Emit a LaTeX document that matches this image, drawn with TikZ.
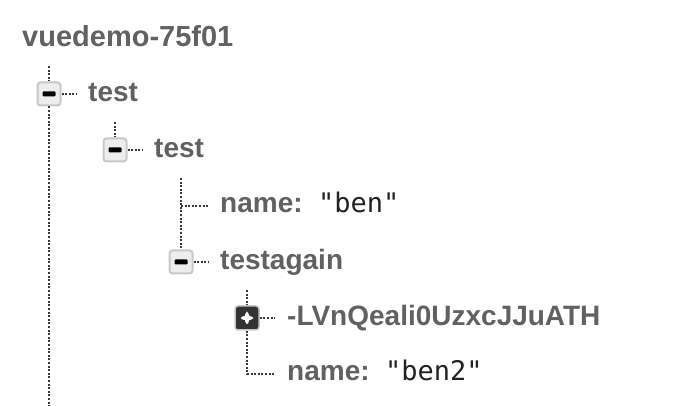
\documentclass[tikz,border=0pt]{standalone}
\usepackage{fontspec}
\setmainfont{Liberation Sans}
\setmonofont{DejaVu Sans Mono}

\definecolor{keygray}{HTML}{616161}
\definecolor{valdark}{HTML}{222222}
\definecolor{dotgray}{HTML}{3A3A3A}
\definecolor{boxedge}{HTML}{C8C8C8}
\definecolor{boxfill}{HTML}{EDEDED}
\definecolor{boxdark}{HTML}{333333}

\begin{document}
\begin{tikzpicture}[x=1pt, y=-1pt]

    % Styles for keys, values, tree lines and toggle boxes
    \tikzset{
      key/.style={anchor=base west, inner sep=0pt, text=keygray,
        font=\fontsize{28}{30}\selectfont\bfseries},
      val/.style={anchor=base west, inner sep=0pt, text=valdark,
        font=\fontsize{27}{30}\selectfont\ttfamily},
      tree/.style={draw=dotgray, line width=2.3pt, dash pattern=on 2pt off 1.6pt},
      minusbox/.style={draw=boxedge, fill=boxfill, line width=2pt, rounded corners=3pt,
        minimum size=23pt, inner sep=0pt,
        path picture={\fill[black, rounded corners=1pt]
          ([shift={(-6.5pt,-2.5pt)}]path picture bounding box.center) rectangle
          ([shift={(6.5pt,2.5pt)}]path picture bounding box.center);}},
      plusbox/.style={draw=boxedge, fill=boxdark, line width=1.5pt, rounded corners=3pt,
        minimum size=24pt, inner sep=0pt,
        path picture={\fill[white]
          ([shift={(-6pt,-2pt)}]path picture bounding box.center) rectangle
          ([shift={(6pt,2pt)}]path picture bounding box.center)
          ([shift={(-2pt,-6pt)}]path picture bounding box.center) rectangle
          ([shift={(2pt,6pt)}]path picture bounding box.center);}}
    }

    \useasboundingbox (0,0) rectangle (686,406);

    % Define horizontal position of each tree level (box centres)
    \def\xa{49}
    \def\xb{115}
    \def\xc{181}
    \def\xd{247}
    % Define vertical centre of each row
    \def\ya{94}
    \def\yb{150}
    \def\yc{206}
    \def\yd{262}
    \def\ye{318}
    \def\yf{374}

    % --- Title ---
    \node[key, font=\fontsize{29}{31}\selectfont\bfseries] (root) at (22, 47) {vuedemo-75f01};

    % --- Rows ---
    \node[minusbox] (tgla) at (\xa, \ya) {};
    \node[key] (keya) at (\xa+39, \ya+8) {test};

    \node[minusbox] (tglb) at (\xb, \yb) {};
    \node[key] (keyb) at (\xb+39, \yb+8) {test};

    \node[key] (keyc) at (\xc+39, \yc+7) {name:};
    \node[val] (valc) at (\xc+137, \yc+7) {"ben"};

    \node[minusbox] (tgld) at (\xc, \yd) {};
    \node[key] (keyd) at (\xc+39, \yd+8) {testagain};

    \node[plusbox] (tgle) at (\xd, \ye) {};
    \node[key] (keye) at (\xd+40, \ye+8) {-LVnQeali0UzxcJJuATH};

    \node[key] (keyf) at (\xd+40, \yf+7) {name:};
    \node[val] (valf) at (\xd+138, \yf+7) {"ben2"};

    % --- Tree line ends ---
    \coordinate (topa) at (\xa, \ya-28);
    \coordinate (enda) at (\xa, 406);
    \coordinate (tipa) at (\xa+28, \ya);
    \coordinate (topb) at (\xb, \yb-28);
    \coordinate (tipb) at (\xb+28, \yb);
    \coordinate (topc) at (\xc, \yc-28);
    \coordinate (cnrc) at (\xc, \yc);
    \coordinate (tipc) at (\xc+28, \yc);
    \coordinate (tipd) at (\xc+28, \yd);
    \coordinate (tope) at (\xd, \ye-28);
    \coordinate (tipe) at (\xd+28, \ye);
    \coordinate (cnrf) at (\xd, \yf);
    \coordinate (tipf) at (\xd+28, \yf);

    % --- Dotted tree lines ---
    \draw[tree] (topa) -- (tgla.north);
    \draw[tree] (tgla.south) -- (enda);
    \draw[tree] (tgla.east) -- (tipa);
    \draw[tree] (topb) -- (tglb.north);
    \draw[tree] (tglb.east) -- (tipb);
    \draw[tree] (topc) -- (tgld.north);
    \draw[tree] (cnrc) -- (tipc);
    \draw[tree] (tgld.east) -- (tipd);
    \draw[tree] (tope) -- (tgle.north);
    \draw[tree] (tgle.east) -- (tipe);
    \draw[tree] (tgle.south) -- (cnrf) -- (tipf);
\end{tikzpicture}
\end{document}
